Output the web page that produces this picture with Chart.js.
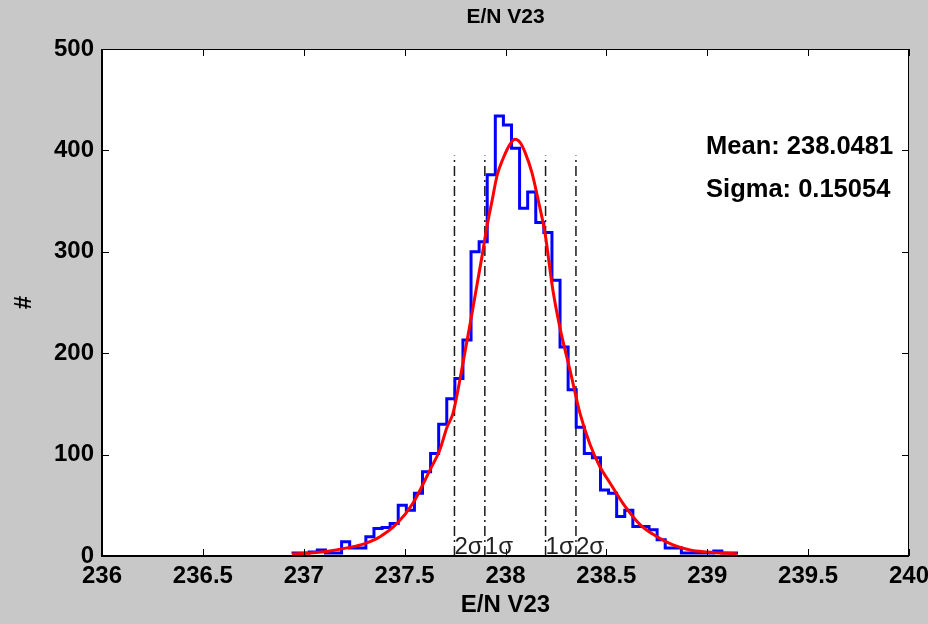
<!DOCTYPE html>
<html>
<head>
<meta charset="utf-8">
<script src="https://cdn.jsdelivr.net/npm/chart.js@4.4.1/dist/chart.umd.min.js"></script>
<style>
  html, body { margin: 0; padding: 0; background: #c8c8c8; }
</style>
</head>
<body>
<canvas id="chart" width="928" height="624"></canvas>
<script>
// histogram of E/N V23 (55 bins)
const binStart = 236.947;
const binWidth = 0.0401;
const counts = [
    2, 3, 3, 4, 6, 3, 3, 14, 8, 8,
    19, 27, 28, 32, 50, 45, 62, 83, 101, 130,
    155, 175, 213, 300, 310, 376, 434, 425, 402, 343,
    359, 329, 319, 272, 206, 164, 127, 101, 97, 65,
    62, 39, 45, 29, 29, 26, 16, 8, 8, 3,
    3, 3, 3, 5, 3,
];

// red fit curve
const fitX = [
    236.942, 237.031, 237.130, 237.214, 237.299, 237.378, 237.462, 237.541,
    237.626, 237.675, 237.710, 237.740, 237.789, 237.839, 237.883, 237.908,
    237.933, 237.958, 237.988, 238.022, 238.047, 238.072, 238.097, 238.131,
    238.161, 238.196, 238.235, 238.270, 238.320, 238.369, 238.419, 238.468,
    238.518, 238.582, 238.667, 238.751, 238.830, 238.914, 238.999, 239.147,
];
const fitY = [
    2, 3, 5, 8, 12, 19, 32, 52,
    85, 105, 127, 141, 190, 245, 295, 325,
    350, 375, 392, 406, 411, 408, 398, 378,
    352, 318, 262, 225, 183, 141, 110, 88,
    72, 52, 31, 19, 11, 6, 4, 2,
];

const meanValue = "238.0481";
const sigmaValue = "0.15054";
const sigmaLines = [237.747, 237.8976, 238.1986, 238.3492];
const sigmaNames = ["2σ", "1σ", "1σ", "2σ"];
const sigmaTop = 395;

const FONT = "'Liberation Sans', Arial, Helvetica, sans-serif";

const histPoints = counts.map((c, i) => ({ x: binStart + i * binWidth, y: c }));
histPoints.push({ x: binStart + counts.length * binWidth, y: counts[counts.length - 1] });

const sigmaSets = sigmaLines.map((v) => ({
    data: [{ x: v, y: 0 }, { x: v, y: sigmaTop }],
    borderColor: "#1a1a1a",
    borderWidth: 1.5,
    borderDash: [10, 4, 2, 4],
    pointRadius: 0,
    showLine: true,
    order: 2,
}));

const matlabLook = {
    id: "matlabLook",
    beforeDraw(chart) {
        const { ctx, chartArea: a } = chart;
        ctx.save();
        ctx.fillStyle = "#c8c8c8";
        ctx.fillRect(0, 0, chart.width, chart.height);
        ctx.fillStyle = "#ffffff";
        ctx.fillRect(a.left, a.top, a.right - a.left, a.bottom - a.top);
        ctx.restore();
    },
    afterDraw(chart) {
        const { ctx, chartArea: a, scales } = chart;
        const xs = scales.x, ys = scales.y;
        ctx.save();
        ctx.strokeStyle = "#000";
        ctx.lineWidth = 1;
        ctx.strokeRect(a.left + 0.5, a.top + 0.5, a.right - a.left - 1, a.bottom - a.top - 1);
        ctx.lineWidth = 2;
        ctx.beginPath();
        ctx.moveTo(a.left, a.top);
        ctx.lineTo(a.left, a.bottom);
        ctx.lineTo(a.right, a.bottom);
        ctx.stroke();

        // inward ticks on all four sides
        ctx.lineWidth = 1;
        ctx.beginPath();
        xs.ticks.forEach((t) => {
            const px = Math.round(xs.getPixelForValue(t.value)) + 0.5;
            ctx.moveTo(px, a.bottom);
            ctx.lineTo(px, a.bottom - 7);
            ctx.moveTo(px, a.top);
            ctx.lineTo(px, a.top + 7);
        });
        ys.ticks.forEach((t) => {
            const py = Math.round(ys.getPixelForValue(t.value)) + 0.5;
            ctx.moveTo(a.left, py);
            ctx.lineTo(a.left + 7, py);
            ctx.moveTo(a.right, py);
            ctx.lineTo(a.right - 7, py);
        });
        ctx.stroke();

        // title centred over the axes
        ctx.fillStyle = "#000";
        ctx.font = "bold 21px " + FONT;
        ctx.textAlign = "center";
        ctx.textBaseline = "middle";
        ctx.fillText("E/N V23", (a.left + a.right) / 2, 17);

        // sigma labels
        ctx.fillStyle = "#222";
        ctx.font = "24px " + FONT;
        ctx.textAlign = "left";
        ctx.textBaseline = "alphabetic";
        sigmaLines.forEach((v, i) => {
            ctx.fillText(sigmaNames[i], xs.getPixelForValue(v), a.bottom - 2);
        });

        // mean / sigma text
        ctx.fillStyle = "#000";
        ctx.font = "bold 25.5px " + FONT;
        ctx.textBaseline = "middle";
        ctx.fillText("Mean: " + meanValue, xs.getPixelForValue(238.994), ys.getPixelForValue(403));
        ctx.fillText("Sigma: " + sigmaValue, xs.getPixelForValue(238.994), ys.getPixelForValue(361));
        ctx.restore();
    },
};

new Chart(document.getElementById("chart"), {
    type: "scatter",
    data: {
        datasets: [
            {
                data: fitX.map((x, i) => ({ x: x, y: fitY[i] })),
                borderColor: "#ff0000",
                borderWidth: 3,
                pointRadius: 0,
                showLine: true,
                cubicInterpolationMode: "monotone",
                order: 0,
            },
            {
                data: histPoints,
                borderColor: "#0000ff",
                borderWidth: 3,
                pointRadius: 0,
                showLine: true,
                stepped: "after",
                order: 1,
            },
            ...sigmaSets,
        ],
    },
    options: {
        responsive: false,
        animation: false,
        layout: { padding: { top: 49, right: 0 } },
        plugins: {
            legend: { display: false },
            tooltip: { enabled: false },
        },
        scales: {
            x: {
                type: "linear",
                min: 236,
                max: 240,
                ticks: {
                    stepSize: 0.5,
                    color: "#000",
                    font: { family: FONT, size: 24, weight: "bold" },
                    padding: 6,
                    maxRotation: 0,
                    autoSkip: false,
                    callback: (v) => String(v),
                },
                grid: { display: false, drawTicks: false },
                border: { display: false },
                title: {
                    display: true,
                    text: "E/N V23",
                    color: "#000",
                    font: { family: FONT, size: 24, weight: "bold" },
                    padding: { top: 0, bottom: 4 },
                },
                afterFit(s) {
                    s.height = 68;
                    s.paddingLeft = 0;
                    s.paddingRight = 19;
                },
            },
            y: {
                type: "linear",
                min: 0,
                max: 500,
                ticks: {
                    stepSize: 100,
                    color: "#000",
                    font: { family: FONT, size: 24, weight: "bold" },
                    padding: 8,
                },
                grid: { display: false, drawTicks: false },
                border: { display: false },
                title: {
                    display: true,
                    text: "#",
                    color: "#000",
                    font: { family: FONT, size: 24, weight: "bold" },
                    padding: { top: 10 },
                },
                afterFit(s) { s.width = 102; },
            },
        },
    },
    plugins: [matlabLook],
});
</script>
</body>
</html>
